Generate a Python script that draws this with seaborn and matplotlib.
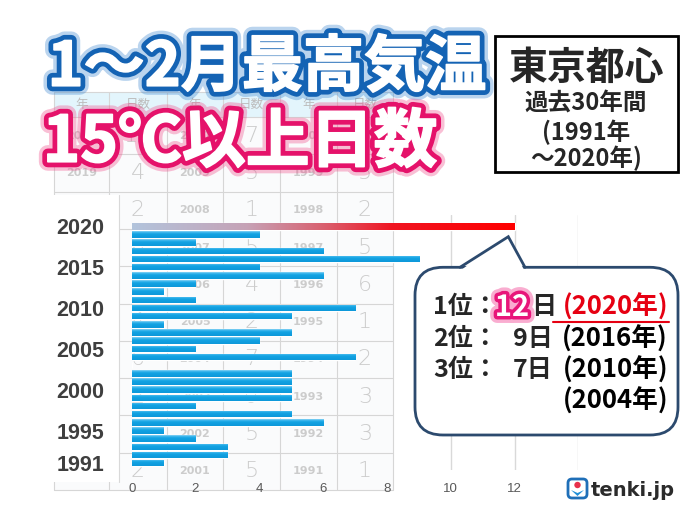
import numpy as np
import pandas as pd
import matplotlib
matplotlib.use("Agg")
import matplotlib.pyplot as plt
import matplotlib.patheffects as pe
from matplotlib.colors import LinearSegmentedColormap
from matplotlib.patches import FancyBboxPatch, Rectangle, Polygon, Circle
from matplotlib.transforms import Affine2D
import seaborn as sns

# data (days with max temp >= 15C in Jan-Feb, central Tokyo)
years = list(range(1991, 2021))
days = [1, 3, 3, 2, 1, 6, 5, 2, 5, 5,
        5, 5, 0, 7, 2, 4, 5, 1, 5, 7,
        2, 1, 2, 6, 4, 9, 6, 2, 4, 12]
year_ticks = [2020, 2015, 2010, 2005, 2000, 1995, 1991]
x_ticks = [0, 2, 4, 6, 8, 10, 12]
grid_x = [2, 4, 6, 8, 10, 12, 14]

title1 = "1～2月最高気温"
title2 = "15℃以上日数"
box_title = "東京都心"
box_lines = ["過去30年間", "(1991年", "～2020年)"]
header = ["年", "日数", "年", "日数", "年", "日数"]

sns.set_style("white")
plt.rcParams['font.family'] = ['Noto Sans CJK JP', 'DejaVu Sans']
JP = ['Noto Sans CJK JP', 'DejaVu Sans']

W, H = 692, 513
fig = plt.figure(figsize=(W / 100, H / 100), dpi=100)
fig.patch.set_facecolor('white')
px = Affine2D().scale(1 / W, -1 / H).translate(0, 1) + fig.transFigure

# ---- bar chart ----
ax = fig.add_axes([131.7 / W, 43 / H, (578.3 - 131.7) / W, 255 / H], zorder=1)
df = pd.DataFrame({'year': [str(y) for y in years], 'days': days})
order = [str(y) for y in reversed(years)]
sns.barplot(data=df, x='days', y='year', order=order, orient='h',
            color='#12a2e2', saturation=1, width=0.8, ax=ax)

blue = LinearSegmentedColormap.from_list(
    'b', [(0, '#8ad3f5'), (0.22, '#2fb1ea'), (0.45, '#12a2e2'), (1, '#0e98da')])
red = LinearSegmentedColormap.from_list(
    'r', [(0, '#b2c4dc'), (0.3, '#c6a2b6'), (0.5, '#d9606f'), (0.68, '#f01522'), (1, '#ff0000')])
vgrad = np.linspace(0, 1, 32).reshape(-1, 1)
hgrad = np.linspace(0, 1, 256).reshape(1, -1)
for p in list(ax.patches):
    w = p.get_width()
    if w <= 0:
        continue
    y0, h = p.get_y(), p.get_height()
    idx = int(round(y0 + h / 2))
    if order[idx] == '2020':
        p.set_facecolor('#ff0000')
        im = ax.imshow(hgrad, cmap=red, extent=(0, w, y0 + h, y0), origin='upper',
                       aspect='auto', zorder=1.1, interpolation='bilinear')
    else:
        im = ax.imshow(vgrad, cmap=blue, extent=(0, w, y0 + h, y0), origin='upper',
                       aspect='auto', zorder=1.1, interpolation='bilinear')
    im.set_clip_path(p)

ax.set_xlim(0, 14)
ax.set_ylim(29.83, -1.383)
ax.patch.set_visible(False)
ax.set_axisbelow(False)
for s in ax.spines.values():
    s.set_visible(False)
ax.grid(False)
ax.set_xlabel('')
ax.set_ylabel('')
for gx in grid_x:
    ax.axvline(gx, color='#d9d9d9', lw=1, zorder=0.3)

ax.set_xticks(x_ticks)
ax.set_xticklabels([str(v) for v in x_ticks], family='Liberation Sans')
ax.tick_params(axis='x', length=0, pad=9, labelsize=9.5, labelcolor='#595959')
ax.set_yticks([order.index(str(y)) for y in year_ticks])
ax.set_yticklabels([str(y) for y in year_ticks], family='Liberation Sans', fontweight='bold')
ax.tick_params(axis='y', length=0, pad=20, labelsize=15.5, labelcolor='#3f3f3f')

# faint background table (same numbers)
col_edges = [54, 109, 167, 223, 280, 337, 393]
row_top, head_h, row_h = 92, 25, 37.3
n_rows = 10
bottom = row_top + head_h + row_h * n_rows
ax.add_patch(Rectangle((54, row_top + head_h), 339, row_h * n_rows, transform=px,
                       fc='#fafbfc', ec='none', zorder=0.6, clip_on=False))
ax.add_patch(Rectangle((54, row_top), 339, head_h, transform=px,
                       fc='#e3f5fc', ec='none', zorder=0.6, clip_on=False))
hl = [row_top, row_top + head_h] + [row_top + head_h + row_h * k for k in range(1, n_rows + 1)]
for yy in hl:
    ax.plot([54, 393], [yy, yy], transform=px, color='#d6d6d6', lw=0.8, zorder=0.62, clip_on=False)
for xx in col_edges:
    ax.plot([xx, xx], [row_top, bottom], transform=px, color='#d6d6d6', lw=0.8, zorder=0.62, clip_on=False)
for c, lab in enumerate(header):
    cx = (col_edges[c] + col_edges[c + 1]) / 2
    ax.text(cx, row_top + head_h / 2, lab, transform=px, ha='center', va='center',
            fontsize=9, color='#bdbdbd', family=JP, zorder=0.7, clip_on=False)
day_of = dict(zip(years, days))
cover_top = 195
for k in range(n_rows):
    cy = row_top + head_h + row_h * (k + 0.5)
    for c in range(3):
        yr = 2020 - 10 * c - k
        x_y = (col_edges[2 * c] + col_edges[2 * c + 1]) / 2
        x_d = (col_edges[2 * c + 1] + col_edges[2 * c + 2]) / 2
        if not (c == 0 and cy > cover_top):   # first column is hidden behind the label area
            ax.text(x_y, cy, str(yr), transform=px, ha='center', va='center', fontsize=8,
                    fontweight='bold', color='#cccccc', family='DejaVu Sans', zorder=0.7, clip_on=False)
        ax.text(x_d, cy, str(day_of[yr]), transform=px, ha='center', va='center', fontsize=16,
                color='#cccccc', family='DejaVu Sans', fontweight='light', zorder=0.7, clip_on=False)
ax.add_patch(Rectangle((38, cover_top), 81, 287, transform=px, fc='white', ec='none',
                       zorder=0.8, clip_on=False))
ax.plot([119, 119], [cover_top, 482], transform=px, color='#d9d9d9', lw=0.8, zorder=0.85, clip_on=False)

# ---- overlay: titles, box, callout, logo ----
ov = fig.add_axes([0, 0, 1, 1], zorder=3)
ov.set_xlim(0, W)
ov.set_ylim(H, 0)
ov.axis('off')
ov.patch.set_visible(False)

ov.text(267, 68, title1, fontsize=44, color='white', ha='center', va='center',
        fontweight='bold', family=JP,
        path_effects=[pe.Stroke(linewidth=13, foreground='#3a86d0', alpha=0.35),
                      pe.Stroke(linewidth=8, foreground='#1463b4'),
                      pe.Stroke(linewidth=1.2, foreground='white'), pe.Normal()])
ov.text(240, 143, title2, fontsize=46, color='white', ha='center', va='center',
        fontweight='bold', family=JP,
        path_effects=[pe.Stroke(linewidth=13, foreground='#f04a88', alpha=0.35),
                      pe.Stroke(linewidth=8, foreground='#e5126a'),
                      pe.Stroke(linewidth=1.2, foreground='white'), pe.Normal()])

ov.add_patch(Rectangle((495, 36), 182.7, 135.7, fc='white', ec='black', lw=2))
ov.text(587, 68, box_title, fontsize=28, fontweight='bold', ha='center', va='center', family=JP)
for yy, s in zip([104, 132, 158], box_lines):
    ov.text(586, yy, s, fontsize=17, fontweight='bold', ha='center', va='center', family=JP)

# callout
edge = '#2c4a6e'
ov.add_patch(FancyBboxPatch((415, 267.3), 263, 167.7, boxstyle='round,pad=0,rounding_size=28',
                            fc='white', ec=edge, lw=2))
ov.add_patch(Polygon([(461, 270), (508, 237), (524, 270)], closed=True, fc='white', ec='none'))
ov.plot([460, 508.3, 525], [267.3, 236.7, 267.3], color=edge, lw=2, solid_joinstyle='miter')

# rankings taken from the data
ranked = sorted(set(days), reverse=True)[:3]
rows_y = [307, 339, 370, 401]
fs = 18
line = 0
for r, val in enumerate(ranked):
    yrs = [y for y in reversed(years) if day_of[y] == val]
    for j, yr in enumerate(yrs):
        yy = rows_y[line]
        if j == 0:
            ov.text(433, yy, f"{r + 1}位：", fontsize=fs, fontweight='bold', ha='left', va='center', family=JP)
            if r == 0:
                ov.text(512, yy, str(val), fontsize=21, fontweight='bold', color='white', ha='center',
                        va='center', family=JP,
                        path_effects=[pe.Stroke(linewidth=10, foreground='#f0147a', alpha=0.35),
                                      pe.Stroke(linewidth=5, foreground='#e8157a'), pe.Normal()])
                ov.text(531, yy, "日", fontsize=fs, fontweight='bold', ha='left', va='center', family=JP)
            else:
                ov.text(553, yy, f"{val}日", fontsize=fs, fontweight='bold', ha='right', va='center', family=JP)
        col = '#e60012' if r == 0 else 'black'
        ov.text(668, yy, f"({yr}年)", fontsize=fs + 0.5, fontweight='bold', ha='right', va='center',
                family=JP, color=col)
        line += 1
ov.plot([553, 669], [322, 322], color='#e60012', lw=1.5)

# logo
ov.add_patch(FancyBboxPatch((568, 479), 19, 19, boxstyle='round,pad=0,rounding_size=4',
                            fc='white', ec='#1f6fb8', lw=2))
ov.add_patch(Circle((577.5, 485), 3.2, fc='#e8304a', ec='none'))
ov.add_patch(Polygon([(571, 490), (577.5, 496), (584, 490), (577.5, 493)], fc='#1f8fd8', ec='none'))
ov.text(591, 490, "tenki.jp", fontsize=14, fontweight='bold', color='#2b2b2b',
        ha='left', va='center', family='DejaVu Sans')

fig.savefig('out.png', dpi=100)
